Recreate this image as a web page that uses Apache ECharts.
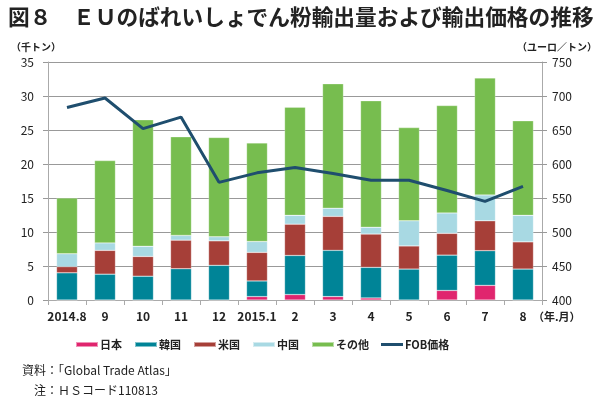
<!DOCTYPE html>
<html style="height: 100%" lang="ja">
<head>
    <meta charset="utf-8">
    <script type="text/javascript" src="https://cdn.jsdelivr.net/npm/echarts@6/dist/echarts.min.js"></script>
</head>
<body style="height: 100%; margin: 0; background: #fff">
<div id="container" style="width: 600px; height: 399px"></div>
<script type="text/javascript">
    // 年.月
    var months = ['2014.8', '9', '10', '11', '12', '2015.1', '2', '3', '4', '5', '6', '7', '8'];
    // 輸出量（千トン）
    var japan = [0, 0, 0, 0, 0, 0.5, 0.8, 0.5, 0.3, 0, 1.4, 2.15, 0];
    var korea = [4.0, 3.8, 3.5, 4.6, 5.1, 2.3, 5.75, 6.8, 4.5, 4.55, 5.2, 5.1, 4.55];
    var usa = [0.9, 3.5, 2.9, 4.2, 3.6, 4.2, 4.6, 5.0, 4.9, 3.4, 3.2, 4.4, 4.0];
    var china = [1.9, 1.1, 1.5, 0.7, 0.6, 1.6, 1.3, 1.2, 1.0, 3.7, 3.0, 3.8, 3.9];
    var others = [8.2, 12.1, 18.6, 14.5, 14.6, 14.5, 15.9, 18.3, 18.6, 13.7, 15.8, 17.2, 13.9];
    // FOB価格（ユーロ／トン）
    var fob = [683, 697, 652, 669, 573, 587, 595, 586, 576, 576, 561, 545, 567];

    var dom = document.getElementById("container");
    var myChart = echarts.init(dom);
    var font = '"Noto Sans CJK JP", "Noto Sans", sans-serif';

    function barSeries(name, data, color) {
        return {
            name: name,
            type: 'bar',
            stack: 'total',
            data: data,
            barWidth: '55%',
            itemStyle: {color: color, borderColor: 'rgba(255,255,255,0.5)', borderWidth: 0.5},
            emphasis: {disabled: true}
        };
    }

    var option = {
        animation: false,
        textStyle: {fontFamily: font},
        title: {
            text: '図８　ＥＵのばれいしょでん粉輸出量および輸出価格の推移',
            left: 3,
            top: 1,
            textStyle: {fontSize: 21.7, fontWeight: 'bold', color: '#222', fontFamily: font}
        },
        legend: {
            top: 334,
            left: 70,
            itemWidth: 22,
            itemHeight: 5,
            itemGap: 12,
            textStyle: {fontSize: 11, color: '#222', fontWeight: 'bold', padding: [0, 0, 0, -3]},
            data: [
                {name: '日本', icon: 'rect'},
                {name: '韓国', icon: 'rect'},
                {name: '米国', icon: 'rect'},
                {name: '中国', icon: 'rect'},
                {name: 'その他', icon: 'rect'},
                {name: 'FOB価格', icon: 'path://M0,0 L22,0 L22,3 L0,3 Z', itemStyle: {color: '#1F4E6E'}}
            ]
        },
        grid: {left: 48, right: 57, top: 62, bottom: 99},
        xAxis: {
            type: 'category',
            data: months,
            axisLine: {lineStyle: {color: '#aaa'}},
            axisTick: {show: true, length: 5, lineStyle: {color: '#aaa'}},
            axisLabel: {fontSize: 12, color: '#222', fontWeight: 'bold', margin: 10, interval: 0}
        },
        yAxis: [
            {
                type: 'value',
                min: 0,
                max: 35,
                interval: 5,
                name: '（千トン）',
                nameLocation: 'end',
                nameGap: 10,
                nameTextStyle: {fontSize: 10, color: '#222', fontWeight: 'bold', align: 'left', padding: [0, 0, 0, -37]},
                axisLine: {show: true, lineStyle: {color: '#aaa'}},
                axisTick: {show: true, length: 5, lineStyle: {color: '#999'}},
                axisLabel: {fontSize: 12, color: '#222', margin: 14},
                splitLine: {lineStyle: {color: '#999'}}
            },
            {
                type: 'value',
                min: 400,
                max: 750,
                interval: 50,
                name: '（ユーロ／トン）',
                nameLocation: 'end',
                nameGap: 10,
                nameTextStyle: {fontSize: 10, color: '#222', fontWeight: 'bold', align: 'right', padding: [0, -55, 0, 0]},
                axisLine: {show: true, lineStyle: {color: '#aaa'}},
                axisTick: {show: true, length: 5, lineStyle: {color: '#999'}},
                axisLabel: {fontSize: 12, color: '#222', margin: 10},
                splitLine: {show: false}
            }
        ],
        graphic: [
            {
                type: 'text',
                left: 533,
                top: 311,
                style: {text: '（年.月）', fontSize: 11, fontWeight: 'bold', fill: '#222', fontFamily: font}
            },
            {
                type: 'text',
                left: 22,
                top: 364,
                style: {text: '資料：「Global Trade Atlas」', fontSize: 12, fill: '#222', fontFamily: font}
            },
            {
                type: 'text',
                left: 34,
                top: 384,
                style: {text: '注：ＨＳコード110813', fontSize: 12, fill: '#222', fontFamily: font}
            }
        ],
        series: [
            barSeries('日本', japan, '#E0256E'),
            barSeries('韓国', korea, '#008497'),
            barSeries('米国', usa, '#A63F38'),
            barSeries('中国', china, '#A8D9E3'),
            barSeries('その他', others, '#77BD4F'),
            {
                name: 'FOB価格',
                type: 'line',
                yAxisIndex: 1,
                data: fob,
                symbol: 'none',
                lineStyle: {color: '#1F4E6E', width: 3},
                itemStyle: {color: '#1F4E6E'},
                z: 5
            }
        ]
    };

    myChart.setOption(option);
</script>
</body>
</html>
